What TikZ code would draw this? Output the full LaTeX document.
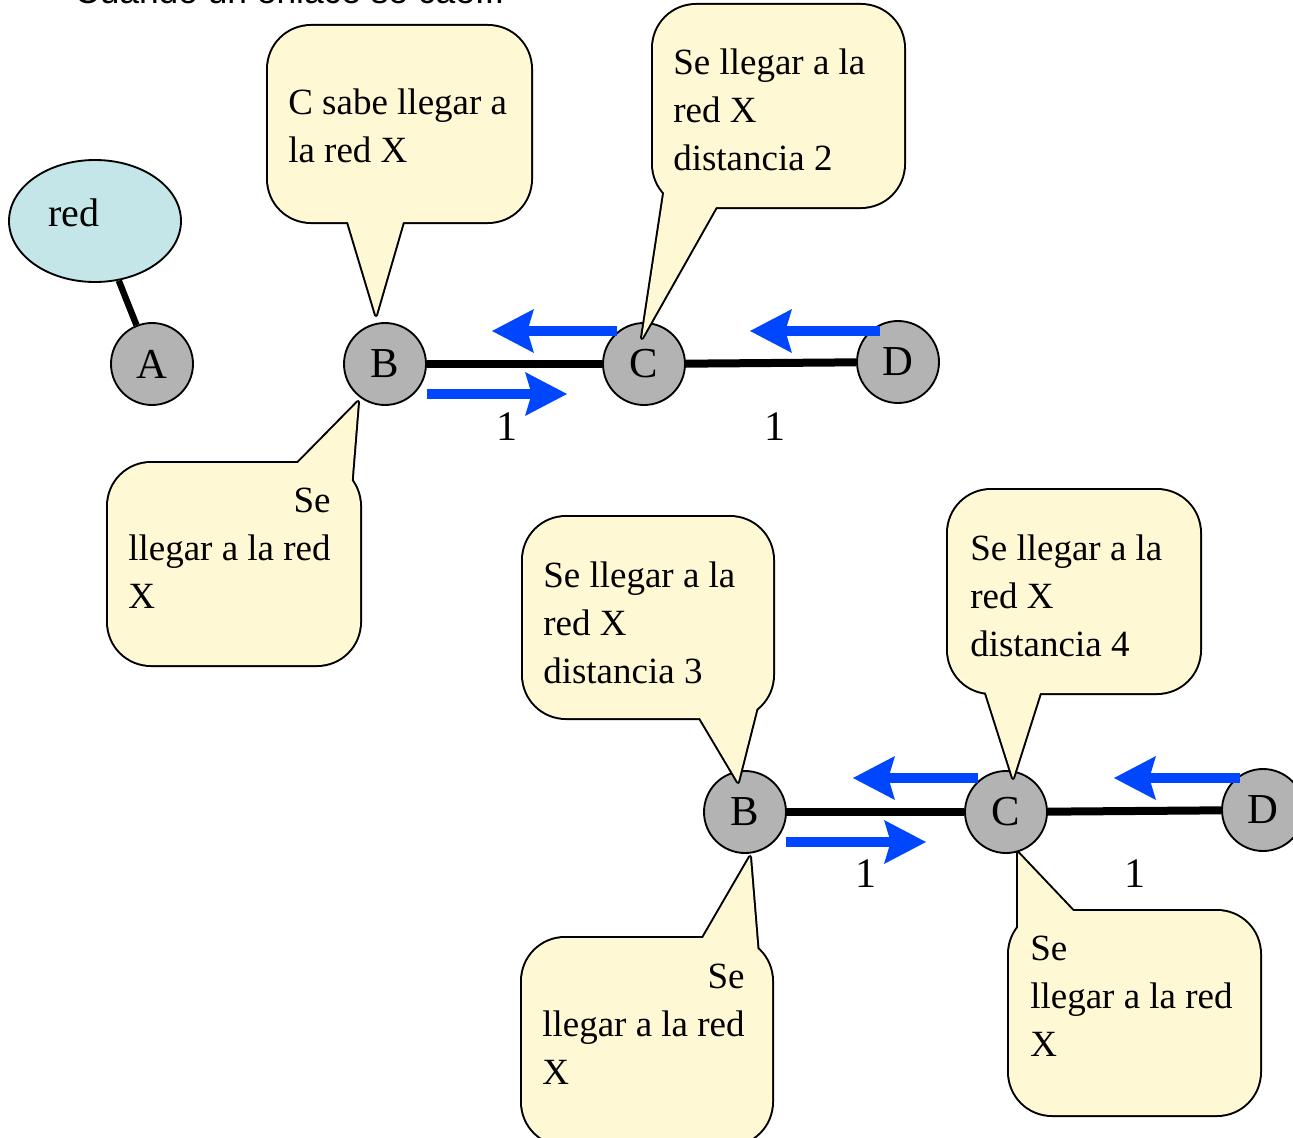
\documentclass[tikz,border=0pt]{standalone}
\usepackage{fontspec}
\setmainfont{Liberation Serif}
\newfontfamily\sansfam{Liberation Sans}
\usetikzlibrary{arrows.meta,shapes.geometric}
\definecolor{hostgray}{RGB}{179,179,179}
\definecolor{netcyan}{RGB}{196,230,232}
\definecolor{bubblebg}{RGB}{255,248,212}
\definecolor{flowblue}{RGB}{0,70,255}
\newcommand{\mybubble}[5]{%
  \draw[bubbleedge,rounded corners=32.25pt] (#1) rectangle (#2);
  \draw[bubbleedge] (#3) -- (#4) -- (#5) -- cycle;
  \fill[bubblebg,rounded corners=32.25pt] (#1) rectangle (#2);
  \fill[bubblebg] (#3) -- (#4) -- (#5) -- cycle;
}
\tikzset{
  host/.style={circle, draw, line width=1.4pt, fill=hostgray, minimum size=61.5pt, inner sep=0pt, font=\fontsize{32}{36}\selectfont},
  link/.style={line width=6pt},
  flow/.style={draw=flowblue, line width=7.5pt, -{Stealth[length=31.5pt,width=33pt,inset=5pt,line width=0pt]}},
  bubbleedge/.style={draw=black, line width=3pt, line join=round},
  ctext/.style={anchor=north west, inner sep=0pt, align=left, font=\fontsize{27.75}{36}\selectfont},
  cost/.style={inner sep=0pt, font=\fontsize{31.5}{36}\selectfont}
}
\begin{document}
\begin{tikzpicture}[x=0.75pt,y=-0.75pt]
\useasboundingbox (0,0) rectangle (1293,1138);

% title (cut off at the top, as in the reference)
\node[anchor=base west, inner sep=0pt, font=\sansfam\fontsize{26.5}{30}\selectfont] (title) at (74,4) {Cuando un enlace se cae...};

% network cloud
\node[ellipse, draw, line width=1.4pt, fill=netcyan, minimum width=129pt, minimum height=91.5pt] (net) at (95,221) {};
\node[anchor=base, inner sep=0pt, font=\fontsize{30}{36}\selectfont] (netlabel) at (74,226) {red};

% hosts, top row
\node[host] (A1) at (152,364) {A};
\node[host] (B1) at (385,364) {B};
\node[host] (C1) at (644,364) {C};
\node[host] (D1) at (898,362) {D};
% hosts, bottom row
\node[host] (B2) at (745,812) {B};
\node[host] (C2) at (1006,812) {C};
\node[host] (D2) at (1263,810) {D};

% links
\draw[line width=4.8pt] (net) -- (A1);
\draw[link] (B1) -- (C1);
\draw[link] (C1) -- (D1);
\draw[link] (B2) -- (C2);
\draw[link] (C2) -- (D2);

% cost labels
\node[cost] (k1) at (507,427) {1};
\node[cost] (k2) at (775,427) {1};
\node[cost] (k3) at (866,874) {1};
\node[cost] (k4) at (1135,874) {1};

% flow arrows
\coordinate (bc1s) at (427,394); \coordinate (bc1e) at (567,394);
\coordinate (cb1s) at (617,331); \coordinate (cb1e) at (492,331);
\coordinate (dc1s) at (880,331); \coordinate (dc1e) at (750,331);
\coordinate (bc2s) at (786,842); \coordinate (bc2e) at (926,842);
\coordinate (cb2s) at (978,778); \coordinate (cb2e) at (853,778);
\coordinate (dc2s) at (1240,778); \coordinate (dc2e) at (1114,778);
\draw[flow] (bc1s) -- (bc1e);
\draw[flow] (cb1s) -- (cb1e);
\draw[flow] (dc1s) -- (dc1e);
\draw[flow] (bc2s) -- (bc2e);
\draw[flow] (cb2s) -- (cb2e);
\draw[flow] (dc2s) -- (dc2e);

% callouts
\mybubble{268,26}{531,222}{348,222}{376,315}{403,222}
\node[ctext] (t1) at (288,80.4) {\strut C sabe llegar a\\la red X};

\mybubble{653,5}{904,207}{665,187}{642,338}{716,207}
\node[ctext] (t2) at (673,40.4) {\strut Se llegar a la\\red X\\distancia 2};

\mybubble{108,463}{360,665}{298,463}{358,402}{351,489}
\node[ctext] (t3) at (128,478.4) {\strut\makebox[5.47em][r]{Se}\\llegar a la red\\X};

\mybubble{523,517}{773,718}{700,718}{738,782}{758,703}
\node[ctext] (t4) at (543,553.4) {\strut Se llegar a la\\red X\\distancia 3};

\mybubble{948,490}{1200,693}{985,690}{1013,778}{1040,693}
\node[ctext] (t5) at (970,526.4) {\strut Se llegar a la\\red X\\distancia 4};

\mybubble{522,938}{772,1145}{703,938}{750,857}{758,955}
\node[ctext] (t6) at (542,954.4) {\strut\makebox[5.47em][r]{Se}\\llegar a la red\\X};

\mybubble{1009,911}{1260,1115}{1018,937}{1018,853}{1073,911}
\node[ctext] (t7) at (1030,926.4) {\strut Se\\llegar a la red\\X};
\end{tikzpicture}
\end{document}
